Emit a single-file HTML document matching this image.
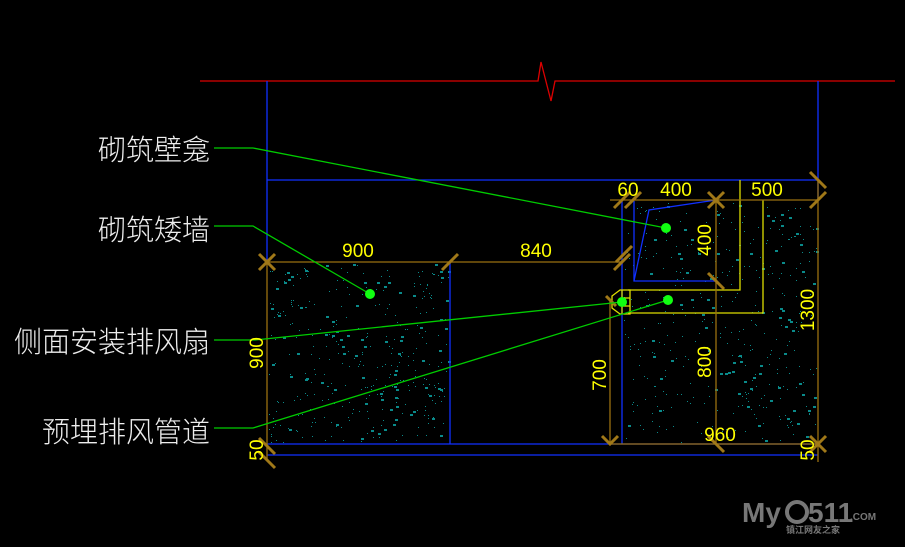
<!DOCTYPE html>
<html><head><meta charset="utf-8"><style>
html,body{margin:0;padding:0;background:#000;width:905px;height:547px;overflow:hidden}
svg{display:block}
.lb{font-family:"Liberation Sans","Noto Sans CJK SC",sans-serif;font-size:29px;fill:#eee;font-weight:300}
.dm{font-family:"Liberation Sans",sans-serif;font-size:19px;fill:#ff0}
</style></head><body>
<svg id="s" width="905" height="547" viewBox="0 0 905 547" xmlns="http://www.w3.org/2000/svg">
<rect width="905" height="547" fill="#000"/>
<g id="hatch" fill="#0a8a8a"></g>
<polyline points="200,81 538,81 541,62 551,101 555,81 895,81" fill="none" stroke="#d00" stroke-width="1.3"/>
<g stroke="#1030ff" stroke-width="1.3" fill="none">
<line x1="267" y1="81" x2="267" y2="262"/>
<line x1="818" y1="81" x2="818" y2="200"/>
<line x1="267" y1="180" x2="818" y2="180"/>
<line x1="450" y1="262" x2="450" y2="444"/>
<line x1="622" y1="200" x2="622" y2="444"/>
<line x1="267" y1="444" x2="818" y2="444"/>
<line x1="267" y1="455" x2="818" y2="455"/>
<polyline points="634,201 634,281 716,281"/>
<polyline points="716,200 649,210 634,281"/>
</g>
<g stroke="#dd0" stroke-width="1.3" fill="none">
<polyline points="740,180 740,290 628,290"/>
<polyline points="763,200 763,313 628,313"/>
<polygon points="612,296 620,290 630,290 630,314 620,314 612,308"/>
<line x1="622" y1="290" x2="622" y2="314"/>
<line x1="622" y1="298" x2="630" y2="298"/><line x1="622" y1="306" x2="630" y2="306"/>
</g>
<g stroke="#9a7010" stroke-width="1.3" fill="none">
<line x1="267" y1="262" x2="622" y2="262"/>
<line x1="267" y1="262" x2="267" y2="460"/>
<line x1="610" y1="200" x2="818" y2="200"/>
<line x1="610" y1="300" x2="610" y2="444"/>
<line x1="716" y1="200" x2="716" y2="444"/>
<line x1="818" y1="180" x2="818" y2="462"/>
<line x1="610" y1="444" x2="818" y2="444"/>
</g>
<g stroke="#a07818" stroke-width="3" fill="none">
<path d="M259,254l16,16M275,254l-16,16"/>
<path d="M442,270l16,-16M614,270l16,-16"/>
<path d="M614,208l16,-16M625,208l16,-16"/>
<path d="M708,192l16,16M724,192l-16,16"/>
<path d="M810,208l16,-16M810,172l16,16"/>
<path d="M708,273l16,16M616,262l16,-16"/>
<path d="M606,296l10,10"/>
<path d="M602,436l8,8 8,-8"/>
<path d="M708,436l16,16M810,436l16,16M826,436l-16,16M259,438l16,16M259,452l16,16"/>
</g>
<g stroke="#0c0" stroke-width="1.3" fill="none">
<polyline points="214,148 253,148 666,228"/>
<polyline points="214,226 253,226 370,294"/>
<polyline points="214,340 255,340 622,302"/>
<polyline points="214,428 253,428 668,300"/>
</g>
<g fill="#1f1">
<circle cx="666" cy="228" r="5"/><circle cx="370" cy="294" r="5"/>
<circle cx="622" cy="302" r="5"/><circle cx="668" cy="300" r="5"/>
</g>
<g class="lb" text-anchor="end">
<text x="210" y="160" textLength="112" lengthAdjust="spacingAndGlyphs">砌筑壁龛</text>
<text x="210" y="240" textLength="112" lengthAdjust="spacingAndGlyphs">砌筑矮墙</text>
<text x="210" y="352" textLength="196" lengthAdjust="spacingAndGlyphs">侧面安装排风扇</text>
<text x="210" y="442" textLength="168" lengthAdjust="spacingAndGlyphs">预埋排风管道</text>
</g>
<g class="dm" text-anchor="middle">
<text x="358" y="257">900</text>
<text x="536" y="257">840</text>
<text x="628" y="196">60</text>
<text x="676" y="196">400</text>
<text x="767" y="196">500</text>
<text x="720" y="441">960</text>
<text transform="translate(711,240) rotate(-90)">400</text>
<text transform="translate(263,353) rotate(-90)">900</text>
<text transform="translate(814,310) rotate(-90)">1300</text>
<text transform="translate(606,375) rotate(-90)">700</text>
<text transform="translate(711,362) rotate(-90)">800</text>
<text transform="translate(263,450) rotate(-90)">50</text>
<text transform="translate(814,450) rotate(-90)">50</text>
</g>
<g fill="#777" font-family="Liberation Sans,sans-serif" font-weight="bold">
<text x="742" y="522" font-size="28">My</text>
<circle cx="797" cy="512" r="10" fill="none" stroke="#777" stroke-width="4"/>
<text x="808" y="522" font-size="28">511</text>
<text x="850" y="520" font-size="10">.COM</text>
<text x="786" y="533" font-size="9" font-family="Noto Sans CJK SC,sans-serif">镇江网友之家</text>
</g>
</svg>
<script>
var g=document.getElementById('hatch'),s=7;function r(){s=(s*16807)%2147483647;return s/2147483647;}
function fill(x0,y0,x1,y1,n){for(var i=0;i<n;i++){var x=x0+r()*(x1-x0),y=y0+r()*(y1-y0);var e=document.createElementNS('http://www.w3.org/2000/svg','rect');var big=r()<0.2;e.setAttribute('x',x.toFixed(0));e.setAttribute('y',y.toFixed(0));e.setAttribute('width',big?3:1);e.setAttribute('height',big?2:1);g.appendChild(e);}}
fill(269,264,449,443,380);fill(624,202,817,443,420);
</script>
</body></html>
